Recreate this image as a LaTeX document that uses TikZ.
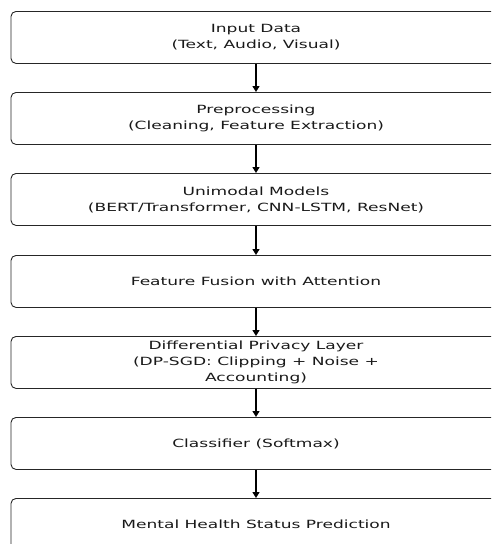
\documentclass[tikz,border=0pt]{standalone}
\usepackage{fontspec}
\setmainfont{DejaVu Sans}[FakeStretch=1.51]
\usetikzlibrary{arrows.meta}
\begin{document}
\begin{tikzpicture}[x=1pt,y=-1pt,
  stagebox/.style={draw=black!85, line width=0.9pt, rounded corners=5pt, minimum width=490pt, minimum height=52pt, inner sep=0pt, align=center, font=\fontsize{11.3}{16}\selectfont, text=black!90, anchor=north},
  flow/.style={-{Triangle[length=6pt,width=7pt]}, line width=1.4pt, black}]
\useasboundingbox (0,0) rectangle (491,544);
\clip (0,0) rectangle (491,544);
\node[stagebox] (b1) at (256,11) {Input Data\\(Text, Audio, Visual)};
\node[stagebox] (b2) at (256,92) {Preprocessing\\(Cleaning, Feature Extraction)};
\node[stagebox] (b3) at (256,173) {Unimodal Models\\(BERT/Transformer, CNN-LSTM, ResNet)};
\node[stagebox] (b4) at (256,255) {Feature Fusion with Attention};
\node[stagebox] (b5) at (256,336) {Differential Privacy Layer\\(DP-SGD: Clipping + Noise +\\Accounting)};
\node[stagebox] (b6) at (256,417) {Classifier (Softmax)};
\node[stagebox] (b7) at (256,498) {Mental Health Status Prediction};
\foreach \a/\b in {b1/b2,b2/b3,b3/b4,b4/b5,b5/b6,b6/b7}
  \draw[flow] (\a.south) -- (\b.north);
\end{tikzpicture}
\end{document}
